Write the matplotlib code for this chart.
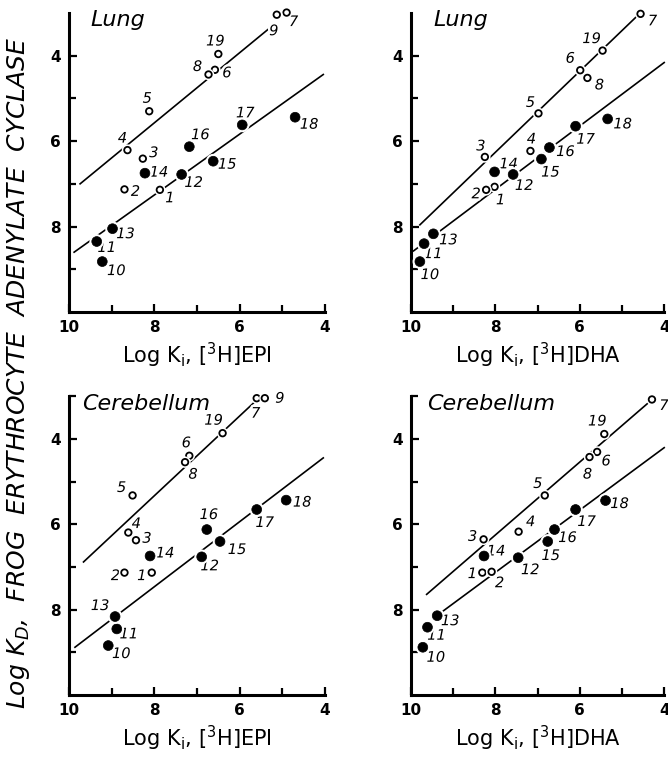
import matplotlib.pyplot as plt
import matplotlib.patheffects as pe
import numpy as np

# compound numbers 1..19 (open circles: 1-9, 19; filled: 10-18)
ids = list(range(1, 20))
filled_ids = [10, 11, 12, 13, 14, 15, 16, 17, 18]

# Lung, [3H]EPI
lung_epi_x = [7.87, 8.70, 8.27, 8.63, 8.12, 6.58, 4.90, 6.73, 5.13, 9.22,
              9.35, 7.36, 8.98, 8.22, 6.62, 7.18, 5.94, 4.70, 6.50]
lung_epi_y = [7.14, 7.13, 6.41, 6.21, 5.30, 4.33, 2.99, 4.44, 3.04, 8.82,
              8.35, 6.78, 8.05, 6.75, 6.47, 6.13, 5.62, 5.44, 3.96]
# Lung, [3H]DHA (9 not shown)
lung_dha_x = [8.02, 8.22, 8.25, 7.17, 6.98, 5.99, 4.56, 5.82, np.nan, 9.79,
              9.69, 7.58, 9.47, 8.02, 6.91, 6.72, 6.10, 5.34, 5.46]
lung_dha_y = [7.07, 7.14, 6.37, 6.23, 5.35, 4.34, 3.02, 4.52, np.nan, 8.82,
              8.40, 6.78, 8.17, 6.72, 6.42, 6.15, 5.65, 5.48, 3.88]
# Cerebellum, [3H]EPI
cer_epi_x = [8.06, 8.70, 8.43, 8.61, 8.51, 7.18, 5.60, 7.28, 5.41, 9.08,
             8.88, 6.89, 8.92, 8.10, 6.46, 6.77, 5.60, 4.91, 6.40]
cer_epi_y = [7.13, 7.13, 6.37, 6.19, 5.32, 4.39, 3.04, 4.54, 3.04, 8.84,
             8.45, 6.76, 8.16, 6.74, 6.40, 6.12, 5.65, 5.43, 3.86]
# Cerebellum, [3H]DHA (9 not shown)
cer_dha_x = [8.31, 8.09, 8.28, 7.45, 6.83, 5.59, 4.29, 5.77, np.nan, 9.72,
             9.61, 7.46, 9.38, 8.27, 6.76, 6.60, 6.10, 5.39, 5.42]
cer_dha_y = [7.13, 7.11, 6.35, 6.17, 5.32, 4.30, 3.07, 4.42, np.nan, 8.88,
             8.41, 6.78, 8.14, 6.74, 6.40, 6.12, 5.65, 5.44, 3.88]

# regression lines, (x0, x1), (y0, y1): upper = open, lower = filled
lung_epi_lines = [([9.74, 5.33], [7.00, 3.38]), ([9.88, 4.04], [8.60, 4.44])]
lung_dha_lines = [([9.79, 4.63], [7.96, 3.06]), ([9.94, 4.00], [8.57, 4.16])]
cer_epi_lines = [([9.66, 5.64], [6.88, 3.12]), ([9.86, 4.04], [8.88, 4.44])]
cer_dha_lines = [([9.63, 4.39], [7.64, 3.16]), ([9.28, 4.00], [8.06, 4.20])]

# label offsets in pixels (dx, dy), one per compound
offs_lung_epi = [(10, -8), (11, -2), (11, 6), (-5, 12), (-2, 13), (12, -3), (7, -9),
                 (-11, 8), (-3, -16), (14, -9), (10, -6), (12, -8), (13, -5), (14, 1),
                 (14, -3), (11, 12), (3, 12), (14, -7), (-3, 13)]
offs_lung_dha = [(6, -13), (-10, -4), (-4, 11), (1, 12), (-8, 11), (-10, 12), (12, -7),
                 (12, -7), (0, 0), (10, -13), (9, -10), (11, -11), (15, -6), (14, 8),
                 (9, -13), (16, -4), (10, -13), (15, -5), (-11, 12)]
offs_cer_epi = [(-10, -3), (-9, -3), (11, 2), (8, 9), (-11, 8), (-3, 13), (-1, -15),
                (8, -12), (15, 0), (13, -8), (12, -5), (8, -9), (-15, 11), (15, 3),
                (17, -8), (2, 15), (8, -13), (16, -2), (-9, 13)]
offs_cer_dha = [(-10, -1), (8, -11), (-11, 3), (12, 10), (-7, 12), (9, -9), (12, -6),
                (-2, -17), (0, 0), (13, -10), (9, -8), (12, -12), (13, -5), (12, 5),
                (3, -14), (13, -8), (11, -12), (14, -3), (-7, 13)]

panels = [
    ("Lung", "EPI", lung_epi_x, lung_epi_y, lung_epi_lines, offs_lung_epi),
    ("Lung", "DHA", lung_dha_x, lung_dha_y, lung_dha_lines, offs_lung_dha),
    ("Cerebellum", "EPI", cer_epi_x, cer_epi_y, cer_epi_lines, offs_cer_epi),
    ("Cerebellum", "DHA", cer_dha_x, cer_dha_y, cer_dha_lines, offs_cer_dha),
]
rects = [
    [0.1033, 0.5895, 0.3832, 0.3934],
    [0.6153, 0.5895, 0.3790, 0.3934],
    [0.1033, 0.0855, 0.3832, 0.3928],
    [0.6153, 0.0855, 0.3790, 0.3928],
]
title_x = [0.082, 0.087, 0.05, 0.063]

fig = plt.figure(figsize=(6.68, 7.60), dpi=100)
halo = [pe.withStroke(linewidth=3.5, foreground="white")]

for k, (tissue, lig, xs, ys, lines, offs) in enumerate(panels):
    ax = fig.add_axes(rects[k])
    xs = np.array(xs)
    ys = np.array(ys)
    is_filled = np.array([i in filled_ids for i in ids])

    for lx, ly in lines:
        ax.plot(lx, ly, color="black", lw=1.2, clip_on=False, zorder=1)

    ax.scatter(xs[~is_filled], ys[~is_filled], s=22, facecolor="white",
               edgecolor="black", linewidth=1.3, clip_on=False, zorder=3,
               path_effects=halo)
    ax.scatter(xs[is_filled], ys[is_filled], s=50, facecolor="black",
               edgecolor="black", linewidth=0.5, clip_on=False, zorder=3,
               path_effects=halo)

    for i, x, y, (dx, dy) in zip(ids, xs, ys, offs):
        if np.isnan(x):
            continue
        ax.annotate(str(i), (x, y), xytext=(dx, dy), textcoords="offset pixels",
                    ha="center", va="center", fontsize=10.5, style="italic",
                    annotation_clip=False, zorder=2, path_effects=halo)

    ax.text(title_x[k], 0.975, tissue, transform=ax.transAxes, fontsize=16,
            style="italic", ha="left", va="center")

    ax.set_xlim(10, 4)
    ax.set_ylim(10, 3)
    ax.set_xticks([10, 8, 6, 4])
    ax.set_xticklabels(["10", "8", "6", "4"])
    ax.set_xticks([9, 7, 5], minor=True)
    ax.set_yticks([4, 6, 8])
    ax.set_yticklabels(["4", "6", "8"])
    if tissue == "Cerebellum":
        ax.set_yticks([3, 5, 7, 9], minor=True)
    else:
        ax.set_yticks([5, 7, 9], minor=True)
    ax.tick_params(which="both", direction="in", width=1.6, labelsize=11)
    ax.tick_params(which="major", length=6, pad=6)
    ax.tick_params(which="minor", length=5)
    for lab in ax.get_xticklabels() + ax.get_yticklabels():
        lab.set_fontweight("bold")
    for s in ["top", "right"]:
        ax.spines[s].set_visible(False)
    for s in ["left", "bottom"]:
        ax.spines[s].set_linewidth(2.2)
    ax.set_xlabel(r"Log K$_\mathregular{i}$, [$^\mathregular{3}$H]" + lig,
                  fontsize=15, labelpad=4)

fig.text(0.027, 0.51,
         r"Log K$_\mathregular{D}$,  FROG  ERYTHROCYTE  ADENYLATE  CYCLASE",
         rotation=90, ha="center", va="center", fontsize=18, style="italic")

fig.savefig("out.png", dpi=100)
